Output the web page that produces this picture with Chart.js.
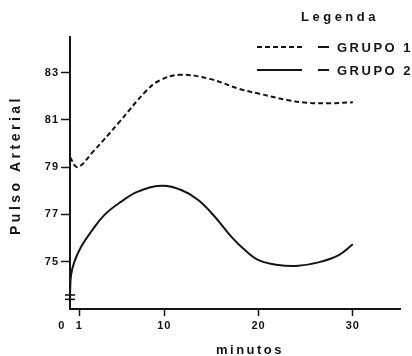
<!DOCTYPE html>
<html>
<head>
<meta charset="utf-8">
<script src="https://cdn.jsdelivr.net/npm/chart.js@4/dist/chart.umd.min.js"></script>
<style>
  html, body { margin: 0; padding: 0; background: #ffffff; }
  #c { display: block; }
</style>
</head>
<body>
<canvas id="c" width="412" height="356"></canvas>
<script>
// ---- data ----
const xTicks = [0, 1, 10, 20, 30];
const yTicks = [75, 77, 79, 81, 83];

const minutos1 = [0, 0.8, 2.4, 5.2, 8.1, 9.5, 11.6, 14.8, 18, 20.1, 23, 25.1, 27.6, 30];
const pulso1   = [79.42, 79.0, 79.63, 80.89, 82.23, 82.66, 82.9, 82.73, 82.3, 82.1, 81.84, 81.72, 81.7, 81.74];

const minutos2 = [0, 0.11, 0.47, 1.18, 2.24, 3.66, 5.44, 7.2, 9.7, 11.8, 13.6, 15.36, 17.1, 18.55, 20.0, 22.1, 24.2, 26.35, 28.5, 30];
const pulso2   = [73.6, 74.43, 75.0, 75.63, 76.27, 76.98, 77.54, 77.96, 78.21, 78.03, 77.61, 76.9, 76.06, 75.49, 75.07, 74.86, 74.83, 74.97, 75.28, 75.74];

const seriesLabels = ['GRUPO 1', 'GRUPO 2'];
const legendTitle = 'Legenda';
const xTitle = 'minutos';
const yTitle = 'Pulso Arterial';
const yBreak = 73.5;

const INK = '#141414';
const FONT = '"Liberation Sans", Arial, sans-serif';

function toPoints(xs, ys) { return xs.map((x, i) => ({ x: x, y: ys[i] })); }

const decor = {
  id: 'decor',
  beforeDraw(chart) { chart.ctx.letterSpacing = '1px'; },
  afterDraw(chart) {
    const { ctx, chartArea: a, scales: { y } } = chart;
    ctx.save();
    ctx.fillStyle = INK;
    ctx.strokeStyle = INK;
    // axis break mark on the y axis
    const yb = y.getPixelForValue(yBreak);
    ctx.lineWidth = 1.6;
    ctx.setLineDash([]);
    [-2.2, 2.2].forEach(d => {
      ctx.beginPath();
      ctx.moveTo(a.left - 5, yb + d);
      ctx.lineTo(a.left + 5, yb + d);
      ctx.stroke();
    });
    // axis titles
    ctx.textAlign = 'center';
    ctx.textBaseline = 'middle';
    ctx.letterSpacing = '2.5px';
    ctx.font = 'bold 13px ' + FONT;
    ctx.fillText(xTitle, 250, 350);
    ctx.save();
    ctx.translate(16, 165);
    ctx.rotate(-Math.PI / 2);
    ctx.letterSpacing = '3.5px';
    ctx.font = 'bold 14px ' + FONT;
    ctx.fillText(yTitle, 0, 0);
    ctx.restore();
    // legend
    ctx.letterSpacing = '3.5px';
    ctx.font = 'bold 13px ' + FONT;
    ctx.fillText(legendTitle, 340, 17);
    const rows = [47, 70];
    chart.data.datasets.forEach((ds, i) => {
      const ly = rows[i];
      ctx.lineWidth = ds.borderWidth;
      ctx.setLineDash(ds.borderDash || []);
      ctx.beginPath();
      ctx.moveTo(257, ly);
      ctx.lineTo(302, ly);
      ctx.stroke();
      ctx.setLineDash([]);
      ctx.lineWidth = 2;
      ctx.beginPath();
      ctx.moveTo(318, ly);
      ctx.lineTo(329, ly);
      ctx.stroke();
      ctx.textAlign = 'left';
      ctx.letterSpacing = '2.5px';
      ctx.font = 'bold 13px ' + FONT;
      ctx.fillText(ds.label, 337, ly + 1);
    });
    ctx.restore();
  }
};

Chart.defaults.font.family = FONT;
Chart.defaults.color = INK;

new Chart(document.getElementById('c'), {
  type: 'line',
  data: {
    datasets: [
      {
        label: seriesLabels[0],
        data: toPoints(minutos1, pulso1),
        borderColor: INK,
        borderWidth: 2,
        borderDash: [5, 3],
        pointRadius: 0,
        fill: false,
        tension: 0.4
      },
      {
        label: seriesLabels[1],
        data: toPoints(minutos2, pulso2),
        borderColor: INK,
        borderWidth: 2,
        pointRadius: 0,
        fill: false,
        tension: 0.4
      }
    ]
  },
  options: {
    responsive: false,
    animation: false,
    devicePixelRatio: 1,
    layout: { padding: { top: 37, right: 12, left: 0, bottom: 0 } },
    plugins: { legend: { display: false }, tooltip: { enabled: false } },
    scales: {
      x: {
        type: 'linear',
        min: 0,
        max: 35,
        afterBuildTicks: s => { s.ticks = xTicks.map(v => ({ value: v })); },
        afterFit: s => { s.height = 47; },
        ticks: {
          autoSkip: false,
          maxRotation: 0,
          padding: 3,
          font: { size: 11, weight: 'bold' },
          color: INK,
          callback: v => (v === 0 ? '0    ' : String(v))
        },
        grid: {
          drawOnChartArea: false,
          drawTicks: true,
          tickLength: 7,
          tickWidth: 1.5,
          tickColor: ctx => (ctx.tick && ctx.tick.value === 0 ? 'rgba(0,0,0,0)' : INK)
        },
        border: { color: INK, width: 2 }
      },
      y: {
        type: 'linear',
        min: 73,
        max: 84.5,
        afterBuildTicks: s => { s.ticks = yTicks.map(v => ({ value: v })); },
        afterFit: s => { s.width = 70; },
        ticks: {
          padding: 2,
          font: { size: 11, weight: 'bold' },
          color: INK
        },
        grid: {
          drawOnChartArea: false,
          drawTicks: true,
          tickLength: 9,
          tickWidth: 1.5,
          tickColor: INK
        },
        border: { color: INK, width: 2 }
      }
    }
  },
  plugins: [decor]
});
</script>
</body>
</html>
